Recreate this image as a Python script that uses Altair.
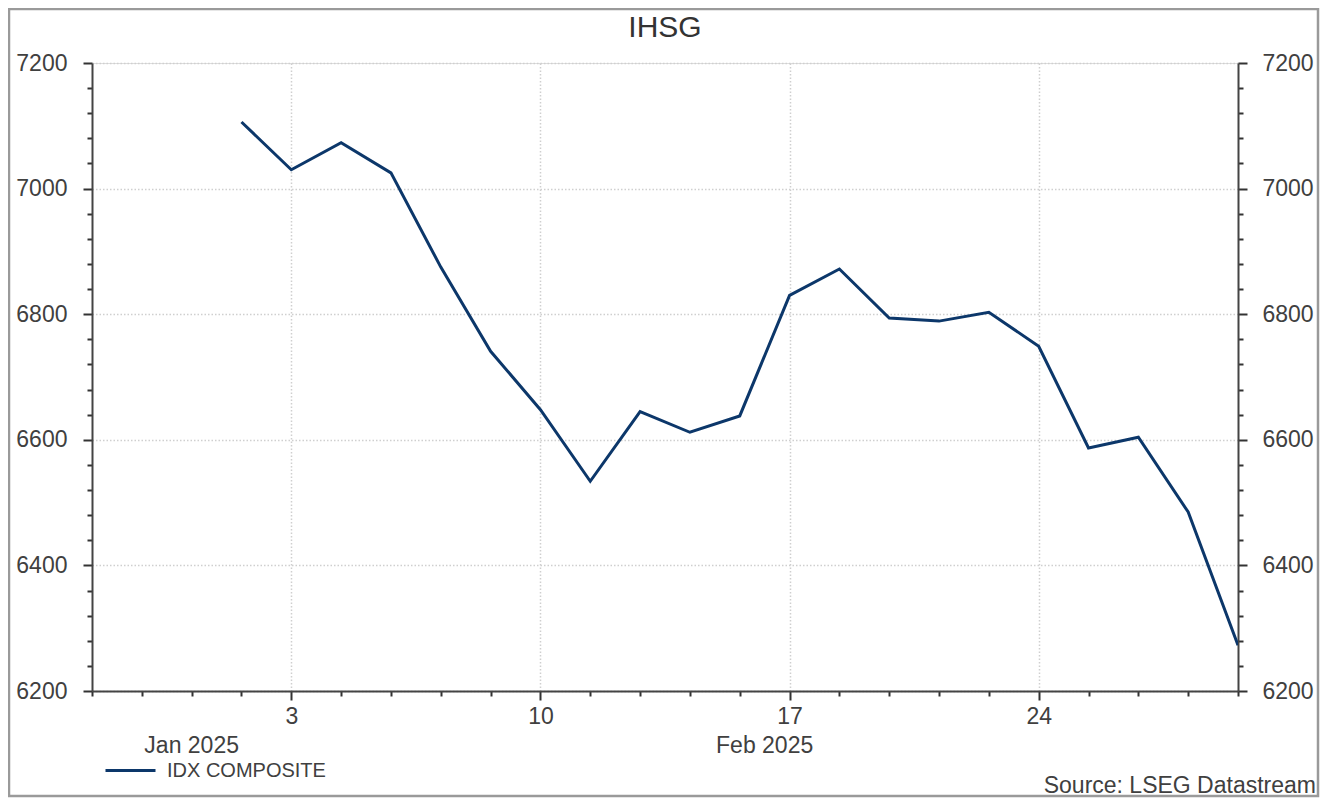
import altair as alt
import numpy as np
import pandas as pd

# ---- data ----
dates = ["2025-01-31", "2025-02-03", "2025-02-04", "2025-02-05", "2025-02-06",
         "2025-02-07", "2025-02-10", "2025-02-11", "2025-02-12", "2025-02-13",
         "2025-02-14", "2025-02-17", "2025-02-18", "2025-02-19", "2025-02-20",
         "2025-02-21", "2025-02-24", "2025-02-25", "2025-02-26", "2025-02-27",
         "2025-02-28"]
values = [7106, 7030, 7073, 7025, 6875, 6741, 6648, 6534, 6645, 6612, 6638,
          6830, 6872, 6794, 6789, 6803, 6749, 6587, 6604, 6485, 6273]
series_name = "IDX COMPOSITE"
title_text = "IHSG"
source_text = "Source: LSEG Datastream"
axis_start, axis_end = "2025-01-28", "2025-02-28"
anchor_day = "2025-02-03"          # first labelled Monday
x_tick_labels = ["3", "10", "17", "24"]
month_labels = ["Jan 2025", "Feb 2025"]
month_bounds = [("2025-01-28", "2025-02-03"), ("2025-02-03", "2025-02-28")]
y_min, y_max, y_major, y_minor = 6200, 7200, 200, 40

# business-day index (Datastream weekday axis)
def bidx(d):
    return int(np.busday_count(anchor_day, d)) if d >= anchor_day else -int(np.busday_count(d, anchor_day))

df = pd.DataFrame({"date": dates, "value": values, "series": series_name})
df["i"] = [bidx(d) for d in dates]
x0, x1 = bidx(axis_start), bidx(axis_end)
x_ticks = list(range(x0, x1 + 1))
y_ticks = list(range(y_min, y_max + 1, y_minor))

months = pd.DataFrame({
    "label": month_labels,
    "pos": [(bidx(a) + bidx(b)) / 2 for a, b in month_bounds],
})

W, H = 1146, 628
FONT = "Liberation Sans"
TXT = "#404040"
NAVY = "#0c376a"

xscale = alt.Scale(domain=[x0, x1], nice=False, zero=False)
yscale = alt.Scale(domain=[y_min, y_max], nice=False, zero=False)

is_major_y = f"datum.value % {y_major} === 0"
is_major_x = "datum.value % 5 === 0"
lab_arr = "[" + ",".join(f"'{s}'" for s in x_tick_labels) + "]"

x_axis = alt.Axis(
    values=x_ticks, title=None, grid=True,
    gridOpacity={"condition": {"test": is_major_x, "value": 1}, "value": 0},
    gridColor="#cfcfcf", gridDash=[1.5, 2], gridWidth=1.5,
    tickSize={"condition": {"test": is_major_x, "value": 9}, "value": 5},
    tickColor="#333", tickWidth=2, domainColor="#444", domainWidth=2,
    labelExpr=f"{is_major_x} ? {lab_arr}[datum.value/5] : ''",
    labelFont=FONT, labelFontSize=23, labelColor=TXT, labelPadding=5,
    labelFlush=False, labelOverlap=False,
)
y_axis_left = alt.Axis(
    values=y_ticks, title=None, orient="left", grid=True,
    gridOpacity={"condition": {"test": is_major_y, "value": 1}, "value": 0},
    gridColor="#cfcfcf", gridDash=[1.5, 2], gridWidth=1.5,
    tickSize={"condition": {"test": is_major_y, "value": 9}, "value": 5},
    tickColor="#333", tickWidth=2, domainColor="#444", domainWidth=2,
    labelExpr=f"{is_major_y} ? datum.value : ''",
    labelFont=FONT, labelFontSize=23, labelColor=TXT, labelPadding=16,
    labelFlush=False, labelOverlap=False,
)
y_axis_right = alt.Axis(
    values=y_ticks, title=None, orient="right", grid=False,
    tickSize={"condition": {"test": is_major_y, "value": 9}, "value": 5},
    tickColor="#333", tickWidth=2, domainColor="#444", domainWidth=2,
    labelExpr=f"{is_major_y} ? datum.value : ''",
    labelFont=FONT, labelFontSize=23, labelColor=TXT, labelPadding=15,
    labelFlush=False, labelOverlap=False,
)

base = alt.Chart(df)

line = base.mark_line(strokeWidth=3, clip=True).encode(
    x=alt.X("i:Q", scale=xscale, axis=x_axis),
    y=alt.Y("value:Q", scale=yscale, axis=y_axis_left),
    color=alt.Color("series:N", scale=alt.Scale(domain=[series_name], range=[NAVY]),
                    legend=alt.Legend(title=None, orient="none", legendX=12, legendY=681,
                                      symbolType="stroke", symbolSize=2500,
                                      symbolStrokeWidth=3, labelFont=FONT,
                                      labelFontSize=20, labelColor=TXT, labelOffset=10)),
)

right = base.mark_line(strokeOpacity=0).encode(
    x=alt.X("i:Q", scale=xscale, axis=None),
    y=alt.Y("value:Q", scale=yscale, axis=y_axis_right),
)

month_txt = alt.Chart(months).mark_text(
    font=FONT, fontSize=23, color=TXT, baseline="middle", align="center"
).encode(
    x=alt.X("pos:Q", scale=xscale, axis=None),
    y=alt.value(683),
    text="label:N",
)

one = pd.DataFrame({"t": [title_text], "s": [source_text]})
title = alt.Chart(one).mark_text(
    font=FONT, fontSize=30, color="#333", baseline="alphabetic", align="center"
).encode(x=alt.value(W / 2), y=alt.value(-26), text="t:N")

source = alt.Chart(one).mark_text(
    font=FONT, fontSize=23, color=TXT, baseline="alphabetic", align="right"
).encode(x=alt.value(W + 78), y=alt.value(730), text="s:N")

frame = alt.Chart(one).mark_rect(fill=None, stroke="#9a9a9a", strokeWidth=2.5).encode(
    x=alt.value(-83), x2=alt.value(W + 80), y=alt.value(-54), y2=alt.value(H + 105)
)

chart = alt.layer(line, right, month_txt, title, source, frame).resolve_axis(
    y="independent", x="independent"
).resolve_scale(y="shared", x="shared").properties(
    width=W, height=H,
    autosize=alt.AutoSizeParams(type="none"),
    padding={"left": 84, "top": 55, "right": 82, "bottom": 107},
).configure_view(stroke=None).configure(background="white")

chart.save("out.html", embed_options={"renderer": "svg", "actions": False})
